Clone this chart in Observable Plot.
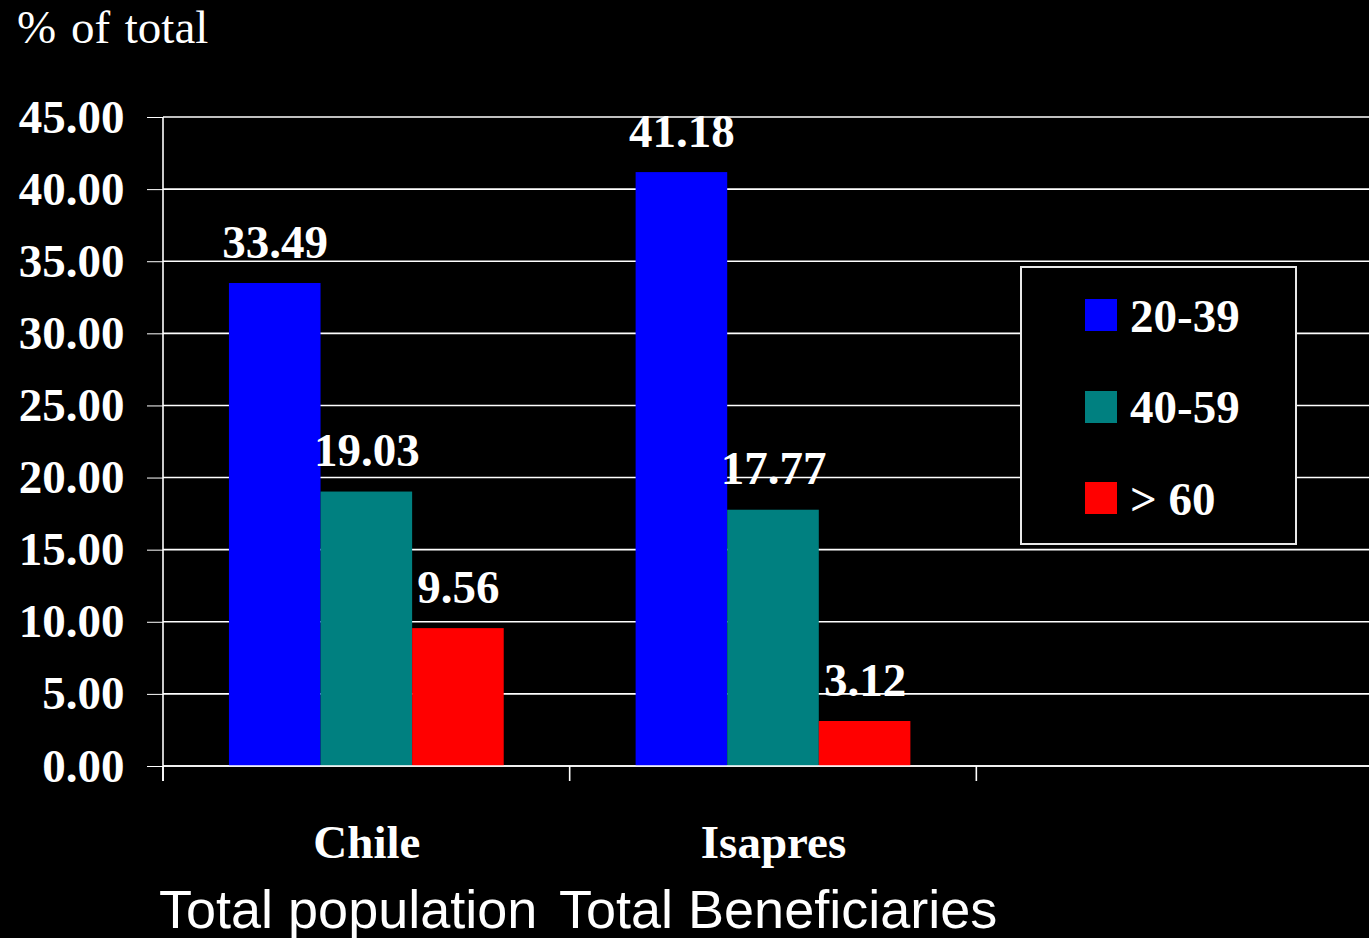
<!DOCTYPE html>
<html>
<head>
<meta charset="utf-8">
<script src="https://cdn.jsdelivr.net/npm/d3@7"></script>
<script src="https://cdn.jsdelivr.net/npm/@observablehq/plot@0.6"></script>
<style>
  html, body { margin: 0; padding: 0; background: #000; overflow: hidden; }
  #wrap { position: relative; width: 1369px; height: 938px; overflow: hidden; background: #000; }
  #chart { position: absolute; left: 0; top: 0; width: 1383px; }
  #chart svg { max-width: none !important; }
  .txt { position: absolute; color: #fff; white-space: nowrap; }
  .serif { font-family: "Liberation Serif", "Times New Roman", serif; }
  .sans { font-family: "Liberation Sans", Arial, sans-serif; }
  #legend { position: absolute; left: 1020px; top: 266px; width: 273px; height: 275px; border: 2px solid #e8e8e8; background: #000; }
  .sw { position: absolute; width: 32px; height: 32px; }
  .lt { position: absolute; font-family: "Liberation Serif", "Times New Roman", serif; font-weight: bold; font-size: 47px; line-height: 47px; color: #fff; white-space: nowrap; }
</style>
</head>
<body>
<div id="wrap">
  <div id="chart"></div>
  <div class="txt serif" style="left:17px; top:4px; font-size:47px; line-height:46px; word-spacing:3px;">% of total</div>
  <div class="txt sans" style="left:159px; top:882px; font-size:54px; line-height:54px;">Total population</div>
  <div class="txt sans" style="left:559px; top:882px; font-size:54px; line-height:54px;">Total Beneficiaries</div>
  <div id="legend"></div>
</div>
<script>
// ---- data ----
const categories = ["Chile", "Isapres"];
const emptyCategory = "_empty";
const series = ["20-39", "40-59", "> 60"];
const colors = ["#0000FF", "#008080", "#FF0000"];
const values2039 = [33.49, 41.18];
const values4059 = [19.03, 17.77];
const values60 = [9.56, 3.12];
const yTicks = [0, 5, 10, 15, 20, 25, 30, 35, 40, 45];

const seriesValues = [values2039, values4059, values60];
const rows = [];
categories.forEach((c, ci) => {
  series.forEach((s, si) => {
    rows.push({category: c, series: s, value: seriesValues[si][ci]});
  });
});

const chart = Plot.plot({
  width: 1383,
  height: 938,
  marginLeft: 163,
  marginRight: 0,
  marginTop: 117,
  marginBottom: 172,
  style: {
    background: "#000",
    color: "#fff",
    fontFamily: "'Liberation Serif', 'Times New Roman', serif",
    fontSize: "47px",
    fontWeight: "bold",
    overflow: "visible",
    maxWidth: "none"
  },
  fx: {
    domain: [...categories, emptyCategory],
    padding: 0,
    round: false,
    axis: "bottom",
    tickSize: 0,
    tickPadding: 58,
    label: null,
    tickFormat: d => (d === emptyCategory ? "" : d)
  },
  x: {domain: series, paddingInner: 0, paddingOuter: 0.72, round: false, axis: null},
  y: {
    domain: [0, 45],
    ticks: yTicks,
    tickSize: 16,
    tickPadding: 23,
    tickFormat: d => d.toFixed(2),
    label: null
  },
  color: {domain: series, range: colors},
  marks: [
    Plot.barY(rows, {fx: "category", x: "series", y: "value", fill: "series"}),
    Plot.text(rows, {
      fx: "category", x: "series", y: "value",
      text: d => d.value.toFixed(2),
      dy: -41, lineAnchor: "middle", fill: "#fff",
      fontWeight: "bold", fontSize: 47
    })
  ]
});
document.getElementById("chart").appendChild(chart);

// gridlines (under the bars), axis line and category boundary ticks, using the plot's own scales
const fxS = chart.scale("fx");
const yS = chart.scale("y");
const svg = d3.select(chart);
const y0 = yS.apply(0);
const yTop = yS.apply(45);
const xLeft = fxS.apply(fxS.domain[0]);
const gridG = svg.insert("g", ":first-child");
yTicks.forEach(t => {
  const yy = yS.apply(t);
  gridG.append("line")
    .attr("x1", xLeft).attr("x2", 1383)
    .attr("y1", yy).attr("y2", yy)
    .attr("stroke", "#fff").attr("stroke-width", 1.6);
});
svg.append("line")
  .attr("x1", xLeft).attr("x2", xLeft)
  .attr("y1", yTop).attr("y2", y0 + 15)
  .attr("stroke", "#fff").attr("stroke-width", 1.6);
svg.append("line")
  .attr("x1", xLeft).attr("x2", 1383)
  .attr("y1", y0).attr("y2", y0)
  .attr("stroke", "#fff").attr("stroke-width", 1.6);
fxS.domain.forEach(d => {
  const xb = fxS.apply(d);
  svg.append("line")
    .attr("x1", xb).attr("x2", xb)
    .attr("y1", y0).attr("y2", y0 + 15)
    .attr("stroke", "#fff").attr("stroke-width", 1.6);
});

// legend
const legend = document.getElementById("legend");
const swTops = [31, 123, 214];
const txtTops = [25, 116, 208];
series.forEach((s, i) => {
  const sw = document.createElement("div");
  sw.className = "sw";
  sw.style.left = "63px";
  sw.style.top = swTops[i] + "px";
  sw.style.background = colors[i];
  legend.appendChild(sw);
  const t = document.createElement("div");
  t.className = "lt";
  t.style.left = "108px";
  t.style.top = txtTops[i] + "px";
  t.textContent = s;
  legend.appendChild(t);
});
</script>
</body>
</html>
